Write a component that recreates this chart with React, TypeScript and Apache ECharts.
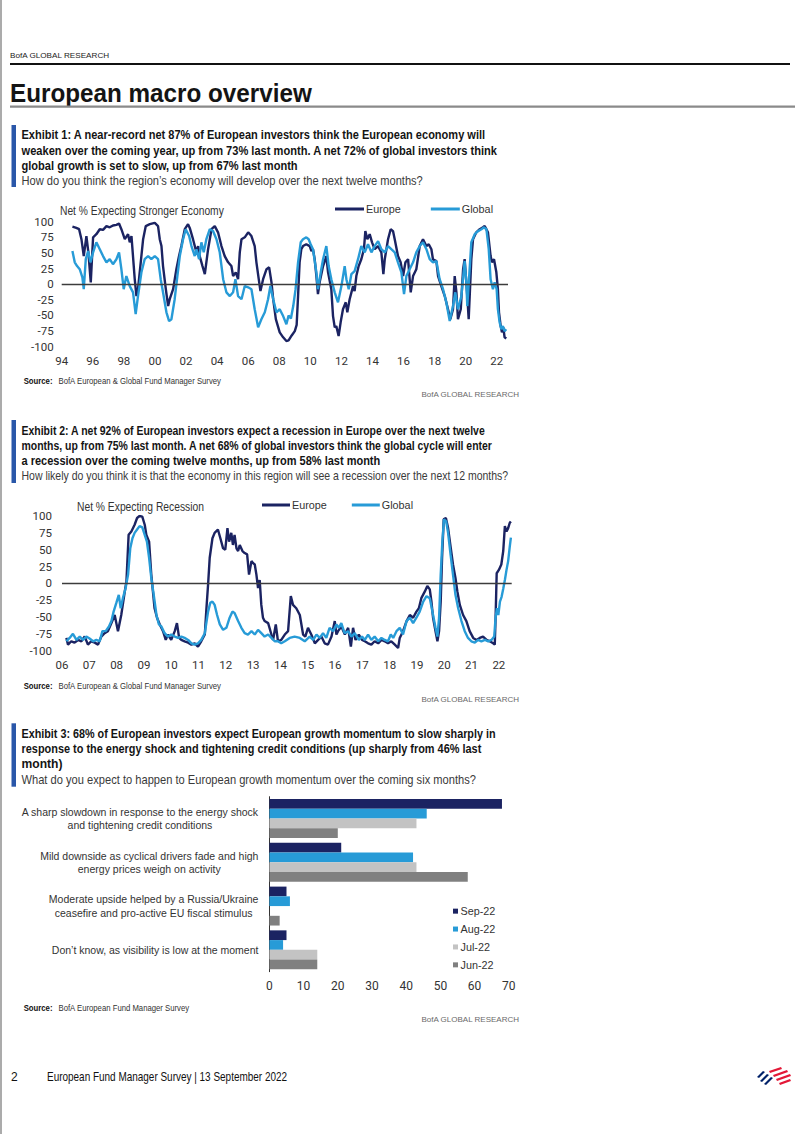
import React, { useEffect, useRef } from 'react';
import * as echarts from 'echarts';

const SANS = '"Liberation Sans", Arial, sans-serif';
const NUM = 'Roboto, "Noto Sans", sans-serif';
const NAVY = '#1b2362';
const SKY = '#279bd7';
const ACCENT = '#2a57a9';

// Exhibit 1: net % expecting stronger economy [decimal year, value]
const econEurope: [number, number][] = [
  [1994.69, 92], [1994.94, 90], [1995.12, 88], [1995.27, 72], [1995.42, 45], [1995.59, 77], [1995.72, 50], [1995.87, 3],
  [1996.02, 75], [1996.23, 80], [1996.45, 88], [1996.66, 87], [1996.88, 93], [1997.09, 91], [1997.3, 94], [1997.52, 95],
  [1997.69, 97], [1997.84, 88], [1998.06, 72], [1998.27, 80], [1998.38, 67], [1998.49, 77], [1998.7, 8], [1998.81, -19],
  [1998.91, -8], [1999.02, 19], [1999.24, 72], [1999.41, 93], [1999.67, 96], [1999.99, 98], [2000.2, 93], [2000.31, 72],
  [2000.42, 61], [2000.52, 29], [2000.7, -8], [2000.85, -35], [2000.95, -24], [2001.17, -8], [2001.38, 24], [2001.55, 45],
  [2001.7, 61], [2001.92, 88], [2002.13, 96], [2002.24, 90], [2002.45, 72], [2002.67, 51], [2002.78, 61], [2002.88, 45],
  [2003.06, 29], [2003.21, 16], [2003.42, 56], [2003.64, 88], [2003.85, 93], [2004.06, 83], [2004.28, 61], [2004.49, 45],
  [2004.71, 35], [2004.92, 29], [2005.03, 13], [2005.2, 19], [2005.35, 8], [2005.46, 51], [2005.57, 72], [2005.78, 75],
  [2006.0, 83], [2006.21, 77], [2006.42, 61], [2006.53, 35], [2006.68, 8], [2006.79, -11], [2006.96, 8], [2007.18, 24],
  [2007.35, 27], [2007.5, 3], [2007.61, -24], [2007.78, -56], [2008.03, -77], [2008.25, -85], [2008.46, -91], [2008.6, -90],
  [2008.8, -82], [2009.0, -75], [2009.12, -65], [2009.21, -19], [2009.31, 35], [2009.42, 56], [2009.53, 61], [2009.74, 64],
  [2009.96, 61], [2010.07, 53], [2010.17, 56], [2010.28, 40], [2010.39, 13], [2010.49, -16], [2010.6, 3], [2010.82, 29],
  [2011.03, 45], [2011.14, 19], [2011.35, -8], [2011.46, -51], [2011.57, -69], [2011.67, -67], [2011.82, -83], [2011.95, -61],
  [2012.1, -40], [2012.28, -29], [2012.38, -45], [2012.53, -24], [2012.75, -3], [2012.85, -11], [2012.96, 13], [2013.11, 29],
  [2013.28, 40], [2013.45, 56], [2013.54, 85], [2013.67, 72], [2013.82, 80], [2013.97, 67], [2014.14, 56], [2014.36, 61],
  [2014.57, 51], [2014.7, 16], [2014.79, 40], [2015.0, 72], [2015.17, 88], [2015.32, 85], [2015.43, 72], [2015.64, 45],
  [2015.81, 35], [2015.97, 13], [2016.12, 35], [2016.29, 40], [2016.46, -13], [2016.61, 13], [2016.82, 24], [2017.04, 61],
  [2017.25, 72], [2017.47, 61], [2017.62, 64], [2017.79, 56], [2017.89, 40], [2018.11, 37], [2018.22, 13], [2018.43, -3],
  [2018.65, -19], [2018.86, -40], [2019.01, -56], [2019.18, -40], [2019.29, 13], [2019.4, -13], [2019.5, -56], [2019.68, -40],
  [2019.83, 24], [2019.93, 40], [2020.1, -19], [2020.19, -56], [2020.36, 40], [2020.47, 72], [2020.68, 83], [2020.9, 88],
  [2021.11, 91], [2021.22, 93], [2021.43, 83], [2021.6, 45], [2021.69, 35], [2021.82, 40], [2021.97, 19], [2022.07, -8],
  [2022.14, -45], [2022.25, -67], [2022.33, -77], [2022.42, -69], [2022.5, -85], [2022.61, -87],
];

const econGlobal: [number, number][] = [
  [1994.69, 53], [1994.84, 35], [1994.99, 29], [1995.16, 24], [1995.33, 11], [1995.42, -8], [1995.55, 40], [1995.7, 53],
  [1995.85, 35], [1996.02, 51], [1996.23, 67], [1996.45, 56], [1996.66, 45], [1996.88, 35], [1997.09, 40], [1997.3, 32],
  [1997.52, 40], [1997.69, 51], [1997.84, 24], [1997.99, -8], [1998.16, 13], [1998.38, -3], [1998.59, -13], [1998.76, -48],
  [1998.91, -19], [1999.13, 19], [1999.34, 40], [1999.56, 45], [1999.77, 40], [1999.99, 45], [2000.2, 40], [2000.37, 8],
  [2000.52, -13], [2000.74, -45], [2000.91, -59], [2001.06, -56], [2001.27, -24], [2001.42, 8], [2001.6, 45], [2001.81, 72],
  [2001.98, 88], [2002.2, 77], [2002.35, 61], [2002.56, 45], [2002.67, 56], [2002.84, 40], [2002.99, 67], [2003.14, 51],
  [2003.31, 72], [2003.53, 88], [2003.74, 85], [2003.96, 72], [2004.17, 51], [2004.39, 8], [2004.6, -13], [2004.82, -19],
  [2005.03, -13], [2005.18, 8], [2005.35, -19], [2005.57, -24], [2005.78, -3], [2006.0, -5], [2006.21, -8], [2006.42, -40],
  [2006.64, -69], [2006.85, -56], [2007.07, -45], [2007.28, -24], [2007.43, -3], [2007.61, -24], [2007.82, -45], [2008.03, -40],
  [2008.25, -51], [2008.46, -64], [2008.6, -50], [2008.75, -55], [2008.9, -35], [2009.05, -8], [2009.21, 35], [2009.38, 67],
  [2009.53, 72], [2009.74, 75], [2009.89, 72], [2010.02, 64], [2010.17, 56], [2010.39, 19], [2010.49, -8], [2010.67, 19],
  [2010.82, 40], [2011.03, 61], [2011.18, 29], [2011.35, 8], [2011.57, -13], [2011.78, -29], [2012.0, -3], [2012.21, 29],
  [2012.32, 8], [2012.47, -8], [2012.64, 16], [2012.85, 21], [2013.07, 40], [2013.28, 61], [2013.5, 51], [2013.71, 64],
  [2013.93, 51], [2014.14, 61], [2014.36, 69], [2014.57, 56], [2014.79, 51], [2015.0, 61], [2015.21, 56], [2015.43, 51],
  [2015.64, 35], [2015.86, 19], [2016.03, -16], [2016.18, 13], [2016.39, 24], [2016.61, 35], [2016.82, 51], [2017.04, 61],
  [2017.25, 67], [2017.47, 56], [2017.68, 40], [2017.89, 35], [2018.11, 37], [2018.32, 8], [2018.54, -8], [2018.75, -29],
  [2018.97, -59], [2019.18, -35], [2019.33, -13], [2019.5, -40], [2019.72, -19], [2019.93, 37], [2020.04, 3], [2020.1, -35],
  [2020.21, 8], [2020.36, 67], [2020.58, 80], [2020.79, 85], [2021.01, 88], [2021.18, 91], [2021.33, 88], [2021.48, 56],
  [2021.6, 8], [2021.75, -8], [2021.86, 3], [2021.99, -8], [2022.07, -40], [2022.18, -61], [2022.29, -72], [2022.39, -67],
  [2022.5, -75], [2022.61, -72],
];

// Exhibit 2: net % expecting recession [decimal year, value]
const recEurope: [number, number][] = [
  [2006.16, -81], [2006.22, -91], [2006.34, -86], [2006.46, -88], [2006.59, -84], [2006.71, -86], [2006.83, -79], [2006.95, -91],
  [2007.07, -86], [2007.2, -88], [2007.32, -91], [2007.44, -79], [2007.56, -74], [2007.68, -71], [2007.81, -59], [2007.93, -47],
  [2008.05, -71], [2008.17, -47], [2008.3, -12], [2008.36, 3], [2008.44, 72], [2008.54, 77], [2008.66, 87], [2008.75, 97],
  [2008.84, 100], [2008.94, 99], [2009.03, 87], [2009.09, 72], [2009.19, 62], [2009.27, 13], [2009.33, -12], [2009.39, -37],
  [2009.48, -51], [2009.58, -61], [2009.7, -71], [2009.8, -84], [2009.88, -76], [2010.0, -84], [2010.13, -71], [2010.21, -59],
  [2010.29, -81], [2010.37, -84], [2010.49, -86], [2010.62, -88], [2010.74, -91], [2010.86, -89], [2010.98, -94], [2011.1, -86],
  [2011.23, -76], [2011.29, -37], [2011.35, -2], [2011.41, 38], [2011.51, 67], [2011.59, 75], [2011.71, 80], [2011.8, 67],
  [2011.9, 52], [2011.98, 50], [2012.06, 82], [2012.12, 62], [2012.2, 75], [2012.26, 57], [2012.32, 72], [2012.39, 52],
  [2012.45, 48], [2012.51, 57], [2012.61, 48], [2012.69, 45], [2012.78, 43], [2012.85, 13], [2012.94, 33], [2013.0, 30],
  [2013.06, 28], [2013.12, 13], [2013.18, -7], [2013.24, 5], [2013.3, -32], [2013.36, -51], [2013.42, -56], [2013.55, -59],
  [2013.67, -76], [2013.73, -84], [2013.83, -61], [2013.91, -86], [2014.03, -84], [2014.16, -76], [2014.28, -71], [2014.38, -19],
  [2014.46, -32], [2014.58, -37], [2014.71, -47], [2014.83, -76], [2014.91, -79], [2015.01, -66], [2015.13, -76], [2015.26, -89],
  [2015.38, -84], [2015.5, -79], [2015.62, -89], [2015.74, -91], [2015.87, -79], [2015.99, -56], [2016.05, -76], [2016.11, -71],
  [2016.23, -64], [2016.36, -76], [2016.48, -66], [2016.58, -94], [2016.66, -66], [2016.75, -84], [2016.87, -76], [2016.99, -84],
  [2017.09, -86], [2017.21, -89], [2017.33, -91], [2017.45, -86], [2017.58, -89], [2017.7, -84], [2017.82, -86], [2017.94, -89],
  [2018.06, -86], [2018.19, -91], [2018.31, -96], [2018.37, -81], [2018.49, -71], [2018.62, -56], [2018.74, -47], [2018.86, -51],
  [2018.98, -42], [2019.07, -37], [2019.16, -22], [2019.29, -12], [2019.38, -4], [2019.47, -9], [2019.53, -27], [2019.59, -51],
  [2019.68, -71], [2019.75, -86], [2019.81, -71], [2019.87, -27], [2019.92, 38], [2019.98, 95], [2020.06, 97], [2020.14, 82],
  [2020.24, 52], [2020.32, 28], [2020.41, 8], [2020.48, -12], [2020.57, -32], [2020.69, -47], [2020.81, -56], [2020.93, -71],
  [2021.06, -81], [2021.18, -84], [2021.3, -81], [2021.42, -79], [2021.55, -84], [2021.67, -86], [2021.79, -89], [2021.85, -91],
  [2021.88, -51], [2021.92, 15], [2022.0, 20], [2022.09, 28], [2022.16, 48], [2022.22, 85], [2022.28, 77], [2022.34, 82],
  [2022.4, 90], [2022.44, 92],
];

const recGlobal: [number, number][] = [
  [2006.16, -86], [2006.28, -81], [2006.4, -75], [2006.53, -84], [2006.65, -79], [2006.77, -84], [2006.89, -79], [2007.01, -82],
  [2007.14, -86], [2007.26, -84], [2007.38, -86], [2007.48, -71], [2007.6, -71], [2007.72, -64], [2007.81, -56], [2007.89, -42],
  [2007.99, -29], [2008.08, -17], [2008.15, -37], [2008.23, -22], [2008.33, -7], [2008.42, 13], [2008.5, 52], [2008.58, 67],
  [2008.66, 75], [2008.75, 80], [2008.84, 85], [2008.94, 83], [2009.03, 72], [2009.11, 62], [2009.19, 38], [2009.27, 8],
  [2009.36, -17], [2009.46, -47], [2009.55, -61], [2009.64, -64], [2009.76, -74], [2009.88, -79], [2010.0, -76], [2010.13, -79],
  [2010.25, -81], [2010.37, -79], [2010.49, -81], [2010.62, -84], [2010.74, -89], [2010.86, -91], [2010.98, -89], [2011.1, -84],
  [2011.23, -74], [2011.35, -42], [2011.43, -29], [2011.51, -27], [2011.59, -32], [2011.68, -47], [2011.78, -61], [2011.9, -69],
  [2012.02, -66], [2012.14, -51], [2012.24, -42], [2012.32, -44], [2012.45, -56], [2012.57, -66], [2012.69, -74], [2012.81, -76],
  [2012.94, -71], [2013.06, -76], [2013.18, -69], [2013.3, -74], [2013.42, -79], [2013.55, -76], [2013.67, -81], [2013.79, -86],
  [2013.91, -86], [2014.03, -89], [2014.16, -86], [2014.34, -81], [2014.52, -79], [2014.71, -81], [2014.89, -86], [2015.07, -79],
  [2015.2, -84], [2015.32, -76], [2015.44, -81], [2015.56, -74], [2015.68, -81], [2015.8, -66], [2015.93, -71], [2016.05, -61],
  [2016.14, -66], [2016.23, -59], [2016.35, -74], [2016.48, -71], [2016.6, -79], [2016.72, -74], [2016.87, -84], [2016.99, -79],
  [2017.09, -84], [2017.21, -76], [2017.33, -84], [2017.45, -79], [2017.58, -86], [2017.7, -81], [2017.82, -84], [2017.94, -86],
  [2018.04, -76], [2018.13, -81], [2018.25, -71], [2018.37, -66], [2018.49, -76], [2018.62, -56], [2018.74, -51], [2018.86, -59],
  [2018.98, -51], [2019.1, -42], [2019.23, -27], [2019.35, -19], [2019.47, -22], [2019.59, -47], [2019.68, -66], [2019.75, -79],
  [2019.81, -51], [2019.87, 13], [2019.93, 62], [2019.99, 95], [2020.07, 92], [2020.14, 75], [2020.23, 43], [2020.32, 13],
  [2020.41, -17], [2020.51, -37], [2020.63, -56], [2020.75, -71], [2020.87, -81], [2020.99, -86], [2021.12, -88], [2021.24, -84],
  [2021.36, -86], [2021.49, -84], [2021.61, -86], [2021.73, -84], [2021.83, -79], [2021.88, -51], [2021.93, -37], [2021.98, -47],
  [2022.04, -27], [2022.1, -20], [2022.16, -8], [2022.22, 5], [2022.28, 20], [2022.34, 33], [2022.4, 55], [2022.44, 68],
];

// Exhibit 3
const barCategories = [
  'A sharp slowdown in response to the energy shock\nand tightening credit conditions',
  'Mild downside as cyclical drivers fade and high\nenergy prices weigh on activity',
  'Moderate upside helped by a Russia/Ukraine\nceasefire and pro-active EU fiscal stimulus',
  'Don’t know, as visibility is low at the moment',
];
const barMonths = ['Sep-22', 'Aug-22', 'Jul-22', 'Jun-22'];
const barSep = [68, 21, 5, 5];
const barAug = [46, 42, 6, 4];
const barJul = [43, 43, 0, 14];
const barJun = [20, 58, 3, 14];
const barColors = [NAVY, SKY, '#c3c3c3', '#808080'];

const lineNames = ['Europe', 'Global'];

const ex1Title = [
  'Exhibit 1: A near-record net 87% of European investors think the European economy will',
  'weaken over the coming year, up from 73% last month. A net 72% of global investors think',
  'global growth is set to slow, up from 67% last month',
];
const ex1Sub = 'How do you think the region’s economy will develop over the next twelve months?';
const ex2Title = [
  'Exhibit 2: A net 92% of European investors expect a recession in Europe over the next twelve',
  'months, up from 75% last month. A net 68% of global investors think the global cycle will enter',
  'a recession over the coming twelve months, up from 58% last month',
];
const ex2Sub = 'How likely do you think it is that the economy in this region will see a recession over the next 12 months?';
const ex3Title = [
  'Exhibit 3: 68% of European investors expect European growth momentum to slow sharply in',
  'response to the energy shock and tightening credit conditions (up sharply from 46% last',
  'month)',
];
const ex3Sub = 'What do you expect to happen to European growth momentum over the coming six months?';

const yr2 = (v: number) => String(Math.round(v) % 100).padStart(2, '0');

let measureCtx: CanvasRenderingContext2D | null = null;
function measure(text: string, font: string) {
  if (!measureCtx) measureCtx = document.createElement('canvas').getContext('2d');
  if (!measureCtx) return 0;
  measureCtx.font = font;
  return measureCtx.measureText(text).width;
}

// text condensed horizontally to a given width (the reference uses a narrow face)
function txt(x: number, y: number, text: string, font: string, fill = '#1a1a1a', width?: number, align = 'left') {
  let scaleX = 1;
  if (width) {
    const w = measure(text, font);
    if (w > 0) scaleX = width / w;
  }
  return {
    type: 'text', x, y, scaleX, silent: true,
    style: { text, font, fill, textAlign: align, textVerticalAlign: 'middle' },
  };
}

function titleBlock(barTop: number, barH: number, lines: string[], ys: number[], widths: number[], sub: string, subY: number, subW: number) {
  const els: any[] = [
    { type: 'rect', shape: { x: 11.5, y: barTop, width: 4.5, height: barH }, style: { fill: ACCENT }, silent: true },
  ];
  lines.forEach((l, i) => els.push(txt(21.5, ys[i], l, `bold 12px ${SANS}`, '#141414', widths[i])));
  els.push(txt(21.5, subY, sub, `12px ${SANS}`, '#3a3a3a', subW));
  return els;
}

function source(y: number, text: string, gy: number) {
  return [
    {
      type: 'text', x: 23.7, y, scaleX: 0.9, silent: true,
      style: {
        text: `{b|Source:}  {r|${text}}`,
        textVerticalAlign: 'middle',
        rich: {
          b: { fontFamily: SANS, fontWeight: 'bold', fontSize: 8.6, fill: '#111' },
          r: { fontFamily: SANS, fontSize: 8.6, fill: '#333' },
        },
      },
    },
    txt(519, gy, 'BofA GLOBAL RESEARCH', `8px ${SANS}`, '#6a6a6a', undefined, 'right'),
  ];
}

function lineSeries(name: string, data: [number, number][], color: string, idx: number, zero: boolean) {
  const s: any = {
    type: 'line', name, data, xAxisIndex: idx, yAxisIndex: idx,
    showSymbol: false, symbol: 'none', silent: true,
    lineStyle: { color, width: 2.4 }, itemStyle: { color },
  };
  if (zero) {
    s.markLine = {
      silent: true, symbol: 'none', label: { show: false },
      lineStyle: { color: '#3c3c3c', width: 1.3, type: 'solid' },
      data: [{ yAxis: 0 }],
    };
  }
  return s;
}

const numLabel = { fontFamily: NUM, fontSize: 11.5, color: '#333' };
const hidden = { show: false };

export default function App() {
  const ref = useRef<HTMLDivElement>(null);
  useEffect(() => {
    if (!ref.current) return;
    const chart = echarts.init(ref.current, undefined, { renderer: 'svg' });
    const logo = {
      type: 'group', x: 757, y: 1067, silent: true,
      children: [
        { type: 'polygon', shape: { points: [[0, 10], [6, 4], [8, 5], [2, 11]] }, style: { fill: '#012169' } },
        { type: 'polygon', shape: { points: [[3, 14], [10, 7], [12, 8], [5, 15]] }, style: { fill: '#012169' } },
        { type: 'polygon', shape: { points: [[7, 17], [14, 10], [16, 11], [9, 18]] }, style: { fill: '#012169' } },
        { type: 'polygon', shape: { points: [[12, 4], [24, 0], [25, 2], [13, 6]] }, style: { fill: '#e31837' } },
        { type: 'polygon', shape: { points: [[16, 8], [30, 3], [31, 5], [17, 10]] }, style: { fill: '#e31837' } },
        { type: 'polygon', shape: { points: [[19, 12], [33, 7], [34, 9], [20, 14]] }, style: { fill: '#e31837' } },
        { type: 'polygon', shape: { points: [[22, 16], [33, 12], [34, 14], [23, 18]] }, style: { fill: '#e31837' } },
      ],
    };
    const graphic: any[] = [
      { type: 'line', shape: { x1: 1, y1: 0, x2: 1, y2: 1134 }, style: { stroke: '#8f8f8f', lineWidth: 1.5 }, silent: true },
      txt(10, 55.7, 'BofA GLOBAL RESEARCH', `8px ${SANS}`, '#222', 100),
      { type: 'line', shape: { x1: 10, y1: 64, x2: 790, y2: 64 }, style: { stroke: '#111', lineWidth: 2 }, silent: true },
      txt(10, 93, 'European macro overview', `bold 26px ${SANS}`, '#141414', 302),
      { type: 'line', shape: { x1: 10, y1: 106.7, x2: 795, y2: 106.7 }, style: { stroke: '#8a8a8a', lineWidth: 2.2 }, silent: true },
      ...titleBlock(125, 62, ex1Title, [135, 150.7, 166], [465, 477, 276.5], ex1Sub, 180.5, 402),
      txt(60, 211, 'Net % Expecting Stronger Economy', `12px ${SANS}`, '#333', 164),
      ...source(381, 'BofA European & Global Fund Manager Survey', 394),
      ...titleBlock(420, 63, ex2Title, [430.5, 446, 461], [464.5, 471.5, 359.5], ex2Sub, 476, 487.5),
      txt(77, 506.5, 'Net % Expecting Recession', `12px ${SANS}`, '#333', 127),
      ...source(686, 'BofA European & Global Fund Manager Survey', 699),
      ...titleBlock(723.3, 63.4, ex3Title, [734, 749.3, 764], [474, 460, 41], ex3Sub, 780, 455),
      ...source(1008.3, 'BofA European Fund Manager Survey', 1019.5),
      txt(11, 1076.7, '2', `12px ${SANS}`, '#111'),
      txt(47, 1076.7, 'European Fund Manager Survey | 13 September 2022', `12px ${SANS}`, '#111', 240.5),
      logo,
    ];

    const legendText = { fontFamily: SANS, fontSize: 10.8, color: '#333', padding: [0, 0, 0, -3] };

    const option: any = {
      animation: false,
      backgroundColor: '#ffffff',
      textStyle: { fontFamily: SANS },
      grid: [
        { left: 61.7, top: 221.7, width: 446.3, height: 125, outerBoundsMode: 'none' },
        { left: 62, top: 516, width: 449.7, height: 134.7, outerBoundsMode: 'none' },
        { left: 269.4, top: 796.7, width: 239.4, height: 175, outerBoundsMode: 'none' },
      ],
      xAxis: [
        {
          gridIndex: 0, type: 'value', min: 1994, max: 2022.72, interval: 2,
          axisLine: hidden, axisTick: hidden, splitLine: hidden,
          axisLabel: { ...numLabel, formatter: yr2, margin: 8, showMaxLabel: false },
        },
        {
          gridIndex: 1, type: 'value', min: 2006, max: 2022.47, interval: 1,
          axisLine: hidden, axisTick: hidden, splitLine: hidden,
          axisLabel: { ...numLabel, formatter: yr2, margin: 8, showMaxLabel: false },
        },
        {
          gridIndex: 2, type: 'value', min: 0, max: 70, interval: 10,
          axisLine: hidden, axisTick: hidden, splitLine: hidden,
          axisLabel: { ...numLabel, fontSize: 12, margin: 8 },
        },
      ],
      yAxis: [
        {
          gridIndex: 0, type: 'value', min: -100, max: 100, interval: 25,
          axisLine: hidden, axisTick: hidden, splitLine: hidden,
          axisLabel: { ...numLabel, margin: 8 },
        },
        {
          gridIndex: 1, type: 'value', min: -100, max: 100, interval: 25,
          axisLine: hidden, axisTick: hidden, splitLine: hidden,
          axisLabel: { ...numLabel, margin: 10 },
        },
        {
          gridIndex: 2, type: 'category', data: barCategories, inverse: true,
          axisLine: { show: true, lineStyle: { color: '#333', width: 1 } },
          axisTick: hidden, splitLine: hidden,
          axisLabel: {
            margin: 11, interval: 0,
            formatter: (v: string) => v.split('\n').map((l) => `{c|${l}}`).join('\n'),
            rich: { c: { align: 'center', fontFamily: SANS, fontSize: 10.5, lineHeight: 13.5, color: '#333' } },
          },
        },
      ],
      legend: [
        {
          left: 335, top: 203.5, padding: 0, itemWidth: 29, itemHeight: 3, itemGap: 30, icon: 'rect',
          data: lineNames, selectedMode: false, textStyle: legendText,
        },
        {
          left: 262, top: 499.5, padding: 0, itemWidth: 28, itemHeight: 3, itemGap: 25, icon: 'rect',
          data: lineNames, selectedMode: false, textStyle: legendText,
        },
        {
          left: 453, top: 905, padding: 0, orient: 'vertical', itemWidth: 5, itemHeight: 5, itemGap: 5.6, icon: 'rect',
          data: barMonths, selectedMode: false,
          textStyle: { ...legendText, lineHeight: 12.3, padding: [0, 0, 0, -2.5] },
        },
      ],
      series: [
        lineSeries('Europe', econEurope, NAVY, 0, true),
        lineSeries('Global', econGlobal, SKY, 0, false),
        lineSeries('Europe', recEurope, NAVY, 1, true),
        lineSeries('Global', recGlobal, SKY, 1, false),
        ...[barSep, barAug, barJul, barJun].map((d, i) => ({
          type: 'bar', name: barMonths[i], data: d, xAxisIndex: 2, yAxisIndex: 2,
          barGap: '0%', barCategoryGap: '11%', silent: true,
          itemStyle: { color: barColors[i] },
        })),
      ],
      graphic,
    };
    chart.setOption(option);
    return () => chart.dispose();
  }, []);
  return <div ref={ref} style={{ position: 'absolute', left: 0, top: 0, width: 802, height: 1134 }} />;
}
